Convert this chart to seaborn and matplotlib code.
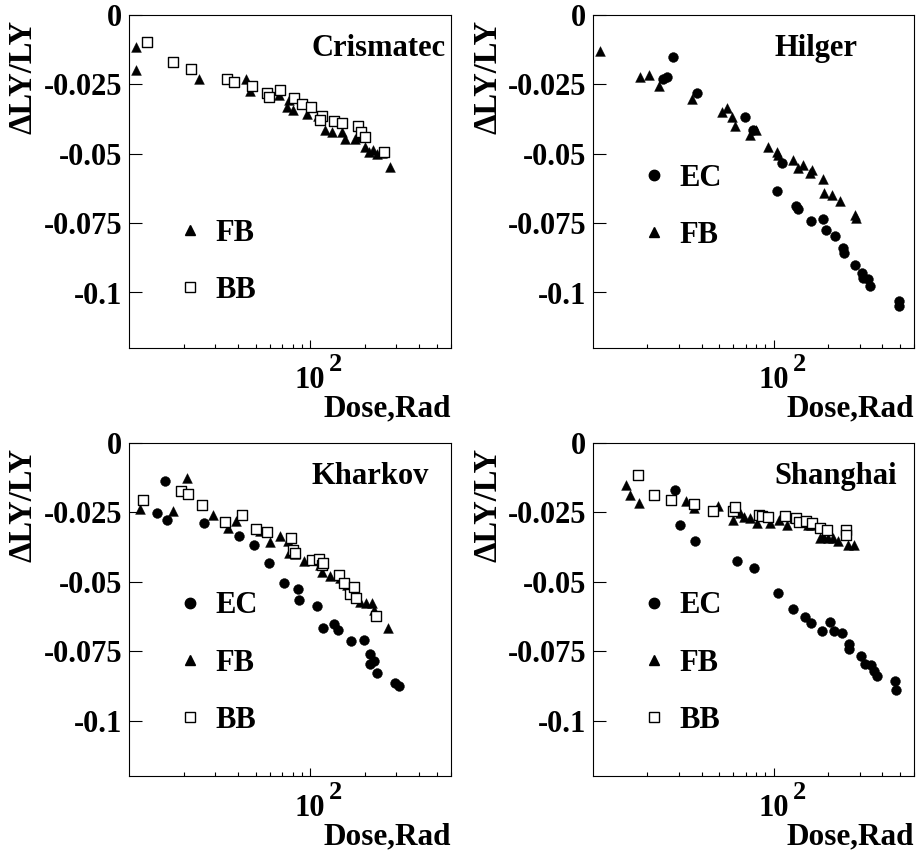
import pandas as pd
import seaborn as sns
import matplotlib.pyplot as plt
from matplotlib.lines import Line2D
from matplotlib.ticker import FixedLocator, NullFormatter, FixedFormatter

# 1. DATA
crismatec_fb_dose = [11.0, 11.0, 24.5, 44, 46.8, 59.4, 67, 76.8, 74.8, 80.7, 95.7, 110, 121, 132,
                     150, 156, 178, 183, 202, 211, 223, 233, 250, 275]
crismatec_fb_dly = [-0.0114, -0.020, -0.023, -0.0232, -0.0274, -0.0296, -0.029, -0.0308, -0.0332,
                    -0.0342, -0.0358, -0.0364, -0.0414, -0.042, -0.042, -0.0448, -0.0448, -0.044,
                    -0.0474, -0.0492, -0.0486, -0.050, -0.0496, -0.0546]
crismatec_bb_dose = [12.5, 17.5, 22, 34.9, 37.8, 47.8, 57.5, 59.4, 68, 81.4, 89.9, 101, 116, 114,
                     136, 151, 183, 190, 202, 255]
crismatec_bb_dly = [-0.0098, -0.017, -0.0194, -0.023, -0.024, -0.0256, -0.0282, -0.0294, -0.0272,
                    -0.030, -0.0322, -0.0332, -0.0364, -0.0378, -0.0382, -0.039, -0.040, -0.0422,
                    -0.0438, -0.0492]

hilger_ec_dose = [27.9, 24.4, 25.7, 37.8, 69.3, 77.1, 105, 111, 134, 137, 161, 187, 195, 219,
                  242, 246, 283, 311, 315, 333, 343, 493, 493]
hilger_ec_dly = [-0.015, -0.0229, -0.0224, -0.0282, -0.0366, -0.0414, -0.0635, -0.0532, -0.0688,
                 -0.070, -0.0744, -0.0736, -0.0774, -0.0798, -0.084, -0.0858, -0.090, -0.093,
                 -0.0948, -0.0952, -0.0976, -0.1032, -0.1048]
hilger_fb_dose = [11, 18.1, 20.3, 23.1, 35.5, 52, 55, 59, 61, 73.9, 79.8, 92.7, 105, 106, 128,
                  137, 146, 159, 164, 189, 190, 212, 234, 283, 286]
hilger_fb_dly = [-0.0128, -0.0224, -0.0217, -0.0256, -0.0304, -0.0348, -0.0336, -0.0366, -0.040,
                 -0.0432, -0.0414, -0.0476, -0.0492, -0.0504, -0.0524, -0.055, -0.054, -0.0568,
                 -0.056, -0.0592, -0.0642, -0.0647, -0.0672, -0.072, -0.0732]

kharkov_ec_dose = [15.8, 14.3, 16.2, 26.1, 40.5, 48.8, 59.4, 71.7, 86.1, 87.3, 109, 118, 136, 142,
                   169, 198, 214, 215, 225, 235, 296, 310]
kharkov_ec_dly = [-0.0138, -0.0252, -0.0276, -0.0288, -0.0336, -0.0368, -0.0434, -0.0506, -0.0526,
                  -0.0564, -0.0586, -0.0666, -0.0654, -0.0674, -0.0714, -0.071, -0.0762, -0.0796,
                  -0.0786, -0.0828, -0.0864, -0.0874]
kharkov_fb_dose = [11.5, 17.4, 20.8, 29, 35.2, 39.1, 53.2, 59.9, 68.1, 75.8, 76.4, 82.5, 93.1, 114,
                   116, 128, 147, 160, 175, 188, 204, 220, 225, 270]
kharkov_fb_dly = [-0.0238, -0.0246, -0.0126, -0.026, -0.0306, -0.0282, -0.0316, -0.0356, -0.0336,
                  -0.0352, -0.0398, -0.040, -0.0424, -0.0438, -0.0464, -0.0478, -0.0486, -0.051,
                  -0.053, -0.0574, -0.0578, -0.0578, -0.060, -0.0666]
kharkov_bb_dose = [11.9, 19.4, 21.3, 25.2, 34.1, 42.3, 50.1, 57.9, 78.3, 80.7, 82.5, 102, 112, 116,
                   118, 144, 153, 166, 175, 180, 232]
kharkov_bb_dly = [-0.0204, -0.0172, -0.0182, -0.0224, -0.0284, -0.026, -0.031, -0.0322, -0.0342,
                  -0.0384, -0.0398, -0.0422, -0.0418, -0.044, -0.0434, -0.0474, -0.0506, -0.0544,
                  -0.052, -0.0558, -0.0622]

shanghai_ec_dose = [28.6, 30.2, 36.6, 63.1, 78.1, 106, 129, 149, 161, 185, 206, 216, 239, 263, 263,
                    304, 322, 347, 358, 374, 468, 478]
shanghai_ec_dly = [-0.0168, -0.0296, -0.0354, -0.0426, -0.045, -0.0542, -0.0598, -0.0628, -0.065,
                   -0.0678, -0.0644, -0.0678, -0.0686, -0.0724, -0.0744, -0.0768, -0.0798, -0.080,
                   -0.0822, -0.084, -0.0858, -0.089]
shanghai_fb_dose = [15.2, 16.1, 17.9, 32.9, 36.2, 49.3, 59.7, 65, 68.7, 73.9, 81.1, 95.4, 107, 118,
                    130, 138, 143, 156, 161, 180, 187, 200, 213, 229, 260, 279]
shanghai_fb_dly = [-0.015, -0.0186, -0.0216, -0.0208, -0.0234, -0.0228, -0.0278, -0.0252, -0.0268,
                   -0.0272, -0.0288, -0.0288, -0.0278, -0.0296, -0.027, -0.0276, -0.0282, -0.0294,
                   -0.0296, -0.0342, -0.0336, -0.0342, -0.0344, -0.0354, -0.0368, -0.0366]
shanghai_bb_dose = [17.7, 21.7, 27.1, 36.2, 46.2, 59.7, 61, 82.9, 86.5, 93.4, 116, 134, 138, 151,
                    163, 181, 197, 251, 252]
shanghai_bb_dly = [-0.0114, -0.0186, -0.0204, -0.022, -0.0244, -0.0244, -0.023, -0.026, -0.0264,
                   -0.0268, -0.0264, -0.027, -0.0286, -0.0282, -0.029, -0.0306, -0.0312, -0.0312,
                   -0.033]

panel_names = ["Crismatec", "Hilger", "Kharkov", "Shanghai"]
series = {
    "Crismatec": [("FB", crismatec_fb_dose, crismatec_fb_dly),
                  ("BB", crismatec_bb_dose, crismatec_bb_dly)],
    "Hilger": [("EC", hilger_ec_dose, hilger_ec_dly),
               ("FB", hilger_fb_dose, hilger_fb_dly)],
    "Kharkov": [("EC", kharkov_ec_dose, kharkov_ec_dly),
                ("FB", kharkov_fb_dose, kharkov_fb_dly),
                ("BB", kharkov_bb_dose, kharkov_bb_dly)],
    "Shanghai": [("EC", shanghai_ec_dose, shanghai_ec_dly),
                 ("FB", shanghai_fb_dose, shanghai_fb_dly),
                 ("BB", shanghai_bb_dose, shanghai_bb_dly)],
}

rows = []
for name in panel_names:
    for kind, dose, dly in series[name]:
        for d, v in zip(dose, dly):
            rows.append({"Panel": name, "Type": kind, "Dose": d, "dLY": v})
df = pd.DataFrame(rows)

MARKERS = {"EC": "o", "FB": "^", "BB": "s"}
SIZES = {"EC": 50, "FB": 50, "BB": 60}

sns.set_style("ticks")
plt.rcParams["font.family"] = ["Liberation Serif", "DejaVu Serif"]
plt.rcParams["font.weight"] = "bold"
plt.rcParams["text.color"] = "black"
plt.rcParams["axes.labelcolor"] = "black"
plt.rcParams["xtick.color"] = "black"
plt.rcParams["ytick.color"] = "black"

fig = plt.figure(figsize=(9.17, 8.55), dpi=100)
W, H = 917, 855
rects = {
    "Crismatec": (129, 15, 322, 333),
    "Hilger": (593, 15, 321, 333),
    "Kharkov": (129, 443, 322, 333),
    "Shanghai": (593, 443, 321, 333),
}
legend_y = {"Crismatec": 0.259, "Hilger": 0.424, "Kharkov": 0.339, "Shanghai": 0.339}

for name in panel_names:
    l, t, w, h = rects[name]
    ax = fig.add_axes([l / W, (H - t - h) / H, w / W, h / H])
    sub = df[df["Panel"] == name]
    handles = []
    for kind, _, _ in series[name]:
        part = sub[sub["Type"] == kind]
        if kind == "BB":
            sns.scatterplot(data=part, x="Dose", y="dLY", marker="s", s=SIZES[kind],
                            facecolor="white", edgecolor="black", linewidth=1.0, ax=ax, zorder=3)
            handles.append(Line2D([], [], ls="", marker="s", markersize=6.5,
                                  markerfacecolor="white", markeredgecolor="black", markeredgewidth=1.0))
        else:
            sns.scatterplot(data=part, x="Dose", y="dLY", marker=MARKERS[kind], s=SIZES[kind],
                            color="black", edgecolor="black", linewidth=0.3, ax=ax, zorder=3)
            handles.append(Line2D([], [], ls="", marker=MARKERS[kind], markersize=7.5,
                                  color="black"))
    labels = [k for k, _, _ in series[name]]

    ax.set_xscale("log")
    ax.set_xlim(10, 600)
    ax.set_ylim(-0.12, 0)
    ax.xaxis.set_major_locator(FixedLocator([100]))
    ax.xaxis.set_major_formatter(FixedFormatter(["10"]))
    ax.xaxis.set_minor_locator(FixedLocator([20, 30, 40, 50, 60, 70, 80, 90, 200, 300, 400, 500, 600]))
    ax.xaxis.set_minor_formatter(NullFormatter())
    ax.set_yticks([0, -0.025, -0.05, -0.075, -0.1])
    ax.set_yticklabels(["0", "-0.025", "-0.05", "-0.075", "-0.1"])
    ax.tick_params(axis="y", direction="in", length=9, width=0.8, labelsize=22, pad=5)
    ax.tick_params(axis="x", which="major", direction="in", length=6, width=0.8, labelsize=22, pad=13)
    ax.tick_params(axis="x", which="minor", direction="in", length=3, width=0.8)
    # exponent of the 10^2 tick label, ROOT style (large and raised)
    ax.annotate("2", xy=(100, 0), xycoords=ax.get_xaxis_transform(), xytext=(13.7, -16.5),
                textcoords="offset points", ha="left", va="baseline", fontsize=19,
                fontweight="bold", annotation_clip=False)
    for sp in ax.spines.values():
        sp.set_color("black")
        sp.set_linewidth(0.8)

    ax.set_xlabel("Dose,Rad", loc="right", fontsize=22.5, fontweight="bold")
    ax.xaxis.set_label_coords(1.0, -0.14)
    ax.set_ylabel("ΔLY/LY", loc="top", fontsize=23.5, fontweight="bold")
    ax.yaxis.set_label_coords(-0.28, 0.985)

    ax.text(0.566, 0.9, name, transform=ax.transAxes, ha="left", va="center",
            fontsize=22, fontweight="bold")
    ax.legend(handles, labels, loc="center left", bbox_to_anchor=(0.141, legend_y[name]),
              frameon=False, borderpad=0, borderaxespad=0, handlelength=1.0,
              handletextpad=0.35, labelspacing=0.93, prop={"size": 22, "weight": "bold"})

fig.savefig("out.png", dpi=100)
